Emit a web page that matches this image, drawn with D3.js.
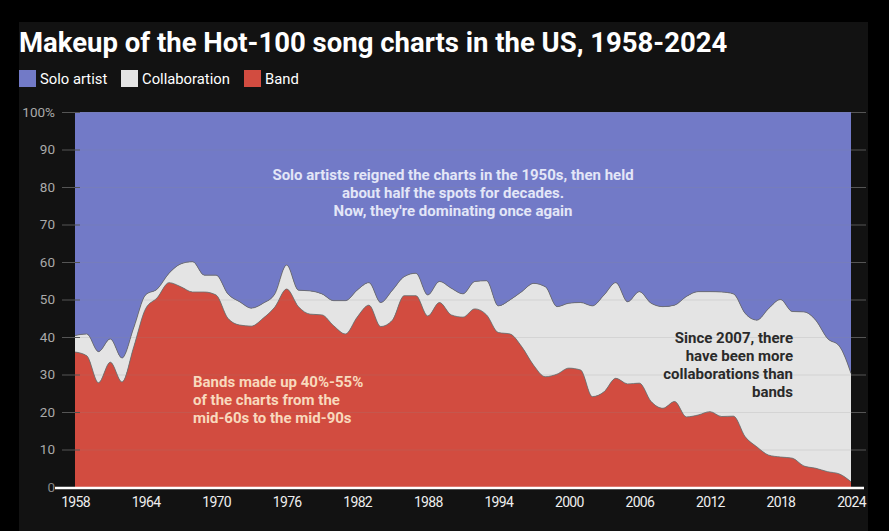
<!DOCTYPE html>
<html><head><meta charset="utf-8">
<script src="https://cdn.jsdelivr.net/npm/d3@7"></script>
<style>
html,body{margin:0;padding:0;background:#000;}
svg{display:block;font-family:Roboto,"Noto Sans",sans-serif;}
</style></head>
<body><svg id="c" width="889" height="531"></svg>
<script>
const years = d3.range(1958, 2025);
const band = [36,35,27.8,33.3,28,37.4,47.5,50.5,54.5,53.4,52,52,51.2,45,43.2,42.9,45,48,52.8,48.1,46.1,45.9,43,40.8,45.3,48.5,42.8,44.5,51,51,45.6,49.2,45.9,45.3,47.5,45.9,41.2,40.8,37.4,32.5,29.4,30.1,31.7,31.2,24.1,25.4,29,27.5,27.7,22.8,21,22.8,18.7,19.2,20.1,18.8,18.9,13.4,10.7,8.5,8,7.7,5.6,5,4.1,3.5,1.4];
const collab = [4.4,5.8,8.3,6.2,6.4,5.1,3.7,2.3,2.5,6.1,8.1,4.5,5.3,6.5,6.2,4.8,4.0,3.5,6.4,4.4,6.2,5.6,6.7,8.9,7.2,6.0,6.4,8.0,5.1,6.0,5.6,5.6,7.1,6.2,7.3,9.1,7.1,9.1,14.7,21.8,24.0,18.0,17.3,18.0,24.2,25.8,25.5,21.9,24.4,26.2,27.1,25.7,32.1,32.9,32.0,33.2,32.6,32.9,33.8,39.1,42.0,39.1,41.1,39.5,35.5,34.1,28.9];
const solo = [59.6,59.2,63.9,60.5,65.6,57.5,48.8,47.2,43.0,40.5,39.9,43.5,43.5,48.5,50.6,52.3,51.0,48.5,40.8,47.5,47.7,48.5,50.3,50.3,47.5,45.5,50.8,47.5,43.9,43.0,48.8,45.2,47.0,48.5,45.2,45.0,51.7,50.1,47.9,45.7,46.6,51.9,51.0,50.8,51.7,48.8,45.5,50.6,47.9,51.0,51.9,51.5,49.2,47.9,47.9,48.0,48.5,53.7,55.5,52.4,50.0,53.2,53.3,55.5,60.4,62.4,69.7];
const seriesNames = ["Solo artist","Collaboration","Band"];
const yTicks = [0,10,20,30,40,50,60,70,80,90,100];
const xTicks = [1958,1964,1970,1976,1982,1988,1994,2000,2006,2012,2018,2024];

const colors = {"Solo artist":"#727ac7","Collaboration":"#e4e4e4","Band":"#d24c40"};
const svg = d3.select("#c");
svg.append("rect").attr("x",19).attr("y",22).attr("width",849).attr("height",509).attr("fill","#121212");

svg.append("text").attr("x",19).attr("y",52).attr("fill","#fff").attr("font-size",27.5).attr("font-weight",700)
  .text("Makeup of the Hot-100 song charts in the US, 1958-2024");

// legend
const legX = [19,121,244];
seriesNames.forEach((n,i)=>{
  svg.append("rect").attr("x",legX[i]).attr("y",70).attr("width",17).attr("height",17).attr("fill",colors[n]);
  svg.append("text").attr("x",legX[i]+21).attr("y",84).attr("fill","#fff").attr("font-size",14.8).text(n);
});

const x = d3.scaleLinear().domain([1958,2024]).range([75,851]);
const y = d3.scaleLinear().domain([0,100]).range([487,112]);

const rows = years.map((yr,i)=>({year:yr, "Band":band[i], "Collaboration":collab[i], "Solo artist":solo[i]}));
const stack = d3.stack().keys(["Band","Collaboration","Solo artist"]);
const layers = stack(rows);
const area = d3.area().x(d=>x(d.data.year)).y0(d=>y(d[0])).y1(d=>y(d[1])).curve(d3.curveMonotoneX);
const line = d3.line().x(d=>x(d.data.year)).y(d=>y(d[1])).curve(d3.curveMonotoneX);

svg.append("g").selectAll("path").data(layers).join("path")
  .attr("d",area).attr("fill",d=>colors[d.key]);
svg.append("g").selectAll("path").data(layers.slice(0,2)).join("path")
  .attr("d",line).attr("fill","none").attr("stroke","#6e6e6e").attr("stroke-width",1).attr("stroke-opacity",0.8);

// grid / ticks
const grid = svg.append("g");
yTicks.filter(t=>t>0).forEach(t=>{
  grid.append("line").attr("x1",75).attr("x2",851).attr("y1",y(t)+0.5).attr("y2",y(t)+0.5)
    .attr("stroke","#888").attr("stroke-opacity",0.18);
  grid.append("line").attr("x1",62).attr("x2",80).attr("y1",y(t)+0.5).attr("y2",y(t)+0.5)
    .attr("stroke","#555");
  grid.append("line").attr("x1",851).attr("x2",866).attr("y1",y(t)+0.5).attr("y2",y(t)+0.5)
    .attr("stroke","#555");
});
const yAxis = d3.axisLeft(y).tickValues(yTicks).tickSize(0).tickPadding(0)
  .tickFormat(d=>d===100?"100%":d);
const ya = svg.append("g").attr("transform","translate(55,0)").call(yAxis);
ya.select(".domain").remove();
ya.selectAll("text").attr("fill",d=>d===0?"#888":"#aaa").attr("font-size",13.5).attr("font-family","Roboto");

// x axis
const xAxis = d3.axisBottom(x).tickValues(xTicks).tickSize(0).tickPadding(10).tickFormat(d3.format("d"));
const xa = svg.append("g").attr("transform","translate(0,487)").call(xAxis);
xa.select(".domain").remove();
xa.selectAll("text").attr("fill","#eee").attr("font-size",14).attr("font-family","Roboto").attr("letter-spacing","-0.7");
svg.append("line").attr("x1",55).attr("x2",864).attr("y1",488).attr("y2",488).attr("stroke","#fff").attr("stroke-width",2.5);

// annotations
function multi(lines, xx, yy, anchor, fill){
  const t = svg.append("text").attr("x",xx).attr("y",yy).attr("text-anchor",anchor).attr("fill",fill)
    .attr("font-size",15).attr("font-weight",700);
  lines.forEach((l,i)=>t.append("tspan").attr("x",xx).attr("dy",i?18:0).text(l));
}
multi(["Solo artists reigned the charts in the 1950s, then held","about half the spots for decades.","Now, they're dominating once again"],453,180,"middle","#e3e6f7");
multi(["Bands made up 40%-55%","of the charts from the","mid-60s to the mid-90s"],193,387,"start","#f8d9bd");
multi(["Since 2007, there","have been more","collaborations than","bands"],793,343,"end","#2a2a2a");
</script></body></html>
